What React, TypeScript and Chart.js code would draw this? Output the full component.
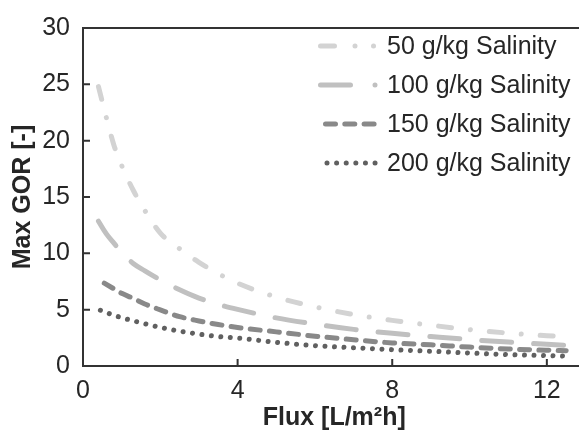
import React, { useEffect, useRef } from "react";
import { Chart, registerables } from "chart.js";

Chart.register(...registerables);

// ---- data ----
const seriesLabels = ["50 g/kg Salinity", "100 g/kg Salinity", "150 g/kg Salinity", "200 g/kg Salinity"];
const flux50 = [0.4, 0.6, 0.8, 1.0, 1.3, 1.6, 2, 2.5, 3, 3.5, 4, 5, 6, 7, 8, 9, 10, 11, 12, 12.5];
const gor50 = [24.8, 22.1, 19.6, 17.8, 15.6, 13.8, 11.8, 10.4, 9.2, 8.2, 7.35, 6.12, 5.25, 4.57, 4.05, 3.62, 3.23, 2.92, 2.69, 2.6];
const flux100 = [0.4, 0.6, 0.8, 1.0, 1.3, 1.6, 2, 2.5, 3, 3.5, 4, 5, 6, 7, 8, 9, 10, 11, 12, 12.5];
const gor100 = [12.85, 11.75, 10.9, 10.1, 9.1, 8.45, 7.64, 6.77, 6.03, 5.47, 5.03, 4.27, 3.72, 3.25, 2.9, 2.62, 2.35, 2.12, 1.93, 1.83];
const flux150 = [0.55, 0.8, 1.0, 1.3, 1.6, 2, 2.5, 3, 3.5, 4, 5, 6, 7, 8, 9, 10, 11, 12, 12.5];
const gor150 = [7.35, 6.85, 6.45, 6.0, 5.5, 4.98, 4.38, 4.0, 3.68, 3.42, 3.03, 2.65, 2.33, 2.05, 1.88, 1.68, 1.51, 1.4, 1.36];
const flux200 = [0.45, 0.6, 0.8, 1.0, 1.3, 1.6, 2, 2.5, 3, 3.5, 4, 5, 6, 7, 8, 9, 10, 11, 12, 12.5];
const gor200 = [4.95, 4.75, 4.5, 4.29, 4.01, 3.75, 3.43, 3.09, 2.83, 2.61, 2.48, 2.1, 1.81, 1.62, 1.45, 1.31, 1.15, 1.01, 0.92, 0.88];

const xTickValues = [0, 4, 8, 12];
const yTickValues = [0, 5, 10, 15, 20, 25, 30];

// ---- styles ----
const FONT = "Arial, 'Liberation Sans', sans-serif";
const TEXT = "#262626";
const AXIS = "#333333";
const colors = ["#d3d3d3", "#c0c0c0", "#898989", "#606060"];
const curveDash = [
  [13, 19, 0.01, 19],
  [30, 22],
  [10, 9.3],
  [0.01, 9.5],
];
const legendDash = [
  [14, 20.5, 0.01, 18.5, 0.01, 100],
  [30, 24.5, 0.01, 100],
  [10, 9.3],
  [0.01, 9.6],
];
const legendRowsY = [46, 85, 124, 163];
const legendLineStart = [320.5, 320.5, 325.5, 327];
const legendLineEnd = 378;
const legendTextX = 387;

const toPoints = (xs: number[], ys: number[]) => xs.map((x, i) => ({ x, y: ys[i] }));

const decorPlugin = {
  id: "decor",
  afterDraw(chart: any) {
    const { ctx, chartArea, scales } = chart;
    const xs = scales.x;
    const ys = scales.y;
    ctx.save();
    ctx.setLineDash([]);
    ctx.lineCap = "butt";
    ctx.strokeStyle = AXIS;
    ctx.lineWidth = 2;
    ctx.beginPath();
    ctx.moveTo(chartArea.left - 1, chartArea.top);
    ctx.lineTo(chartArea.right + 5, chartArea.top);
    yTickValues.forEach((v) => {
      if (v === yTickValues[0] || v === yTickValues[yTickValues.length - 1]) return;
      const py = ys.getPixelForValue(v);
      ctx.moveTo(chartArea.left, py);
      ctx.lineTo(chartArea.left + 7, py);
    });
    xTickValues.forEach((v) => {
      if (v === xTickValues[0]) return;
      const px = xs.getPixelForValue(v);
      ctx.moveTo(px, chartArea.bottom);
      ctx.lineTo(px, chartArea.bottom - 7);
    });
    ctx.stroke();

    // legend
    seriesLabels.forEach((label, i) => {
      const y = legendRowsY[i];
      ctx.save();
      ctx.strokeStyle = colors[i];
      ctx.lineWidth = 5;
      ctx.lineCap = "round";
      ctx.setLineDash(legendDash[i]);
      ctx.beginPath();
      ctx.moveTo(legendLineStart[i], y);
      ctx.lineTo(legendLineEnd, y);
      ctx.stroke();
      ctx.restore();
      ctx.fillStyle = TEXT;
      ctx.font = `25px ${FONT}`;
      ctx.textAlign = "left";
      ctx.textBaseline = "middle";
      ctx.fillText(label, legendTextX, y + 1);
    });
    ctx.restore();
  },
};

export default function App() {
  const canvasRef = useRef<HTMLCanvasElement | null>(null);

  useEffect(() => {
    if (!canvasRef.current) return;
    const datasets = [
      toPoints(flux50, gor50),
      toPoints(flux100, gor100),
      toPoints(flux150, gor150),
      toPoints(flux200, gor200),
    ].map((data, i) => ({
      label: seriesLabels[i],
      data,
      borderColor: colors[i],
      backgroundColor: colors[i],
      borderWidth: 5,
      borderDash: curveDash[i],
      borderCapStyle: "round" as const,
      pointRadius: 0,
      fill: false,
      cubicInterpolationMode: "monotone" as const,
    }));

    const chart = new Chart(canvasRef.current, {
      type: "line",
      data: { datasets },
      options: {
        animation: false,
        responsive: false,
        events: [],
        layout: { padding: { top: 16, right: 4.5, left: 0, bottom: 0 } },
        plugins: { legend: { display: false }, tooltip: { enabled: false } },
        scales: {
          x: {
            type: "linear",
            min: 0,
            max: 13,
            afterFit: (s: any) => {
              s.height = 69;
            },
            afterBuildTicks: (s: any) => {
              s.ticks = xTickValues.map((v) => ({ value: v }));
            },
            grid: { display: false, drawTicks: false },
            border: { display: true, color: AXIS, width: 2 },
            ticks: {
              padding: 10,
              color: TEXT,
              font: { family: FONT, size: 25 },
              maxRotation: 0,
            },
            title: {
              display: true,
              text: "Flux [L/m²h]",
              color: TEXT,
              font: { family: FONT, size: 25, weight: "bold" },
              padding: { top: 0, bottom: 2 },
            },
          },
          y: {
            type: "linear",
            min: 0,
            max: 30,
            afterFit: (s: any) => {
              s.width = 83;
            },
            afterBuildTicks: (s: any) => {
              s.ticks = yTickValues.map((v) => ({ value: v }));
            },
            grid: { display: false, drawTicks: false },
            border: { display: true, color: AXIS, width: 2 },
            ticks: {
              padding: 13,
              color: TEXT,
              font: { family: FONT, size: 25 },
            },
            title: {
              display: true,
              text: "Max GOR [-]",
              color: TEXT,
              font: { family: FONT, size: 25, weight: "bold" },
              padding: { top: 8.5, bottom: 0 },
            },
          },
        },
      },
      plugins: [decorPlugin],
    });
    return () => chart.destroy();
  }, []);

  return (
    <div style={{ position: "absolute", left: 0, top: 0, width: 579, height: 435, overflow: "hidden", background: "#fff" }}>
      <canvas ref={canvasRef} width={590} height={435} style={{ display: "block", width: 590, height: 435 }} />
    </div>
  );
}
